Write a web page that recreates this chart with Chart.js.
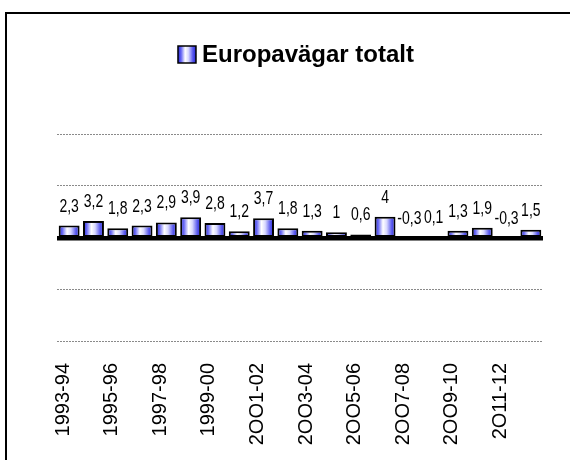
<!DOCTYPE html>
<html>
<head>
<meta charset="utf-8">
<script src="https://cdn.jsdelivr.net/npm/chart.js@4.4.1/dist/chart.umd.min.js"></script>
<style>
  body { margin: 0; background: #fff; }
</style>
</head>
<body>
<canvas id="chart" width="570" height="460"></canvas>
<script>
// Data
const categories = ['1993-94', '1994-95', '1995-96', '1996-97', '1997-98', '1998-99', '1999-00',
  '2OOO-01', '2OO1-02', '2OO2-03', '2OO3-04', '2OO4-05', '2OO5-06', '2OO6-07', '2OO7-08',
  '2OO8-09', '2OO9-10', '2O10-11', '2O11-12', '2O12-13'];
const values = [2.3, 3.2, 1.8, 2.3, 2.9, 3.9, 2.8, 1.2, 3.7, 1.8, 1.3, 1, 0.6, 4, -0.3, 0.1, 1.3, 1.9, -0.3, 1.5];
const yTicks = [-20, -10, 0, 10, 20];
const seriesName = 'Europavägar totalt';

const FONT = 'Arial, "Liberation Sans", sans-serif';
const BAR_PCT = 0.86;

function addStops(g) {
  g.addColorStop(0, '#2424d8');
  g.addColorStop(0.18, '#6b6bf5');
  g.addColorStop(0.4, '#ffffff');
  g.addColorStop(0.58, '#d8d8ff');
  g.addColorStop(0.82, '#5a5aee');
  g.addColorStop(1, '#2424d8');
  return g;
}

// horizontal cylinder-like gradient per bar
function barFill(ctx) {
  const chart = ctx.chart;
  const x = chart.scales.x;
  if (!x || ctx.type !== 'data' || !chart.chartArea) return '#5555ee';
  const cx = x.getPixelForValue(ctx.dataIndex);
  const w = (x.width / categories.length) * BAR_PCT;
  return addStops(chart.ctx.createLinearGradient(cx - w / 2, 0, cx + w / 2, 0));
}

const framePlugin = {
  id: 'frame',
  beforeDraw(chart) {
    const c = chart.ctx;
    c.save();
    c.fillStyle = '#fff';
    c.fillRect(0, 0, chart.width, chart.height);
    c.strokeStyle = '#000';
    c.lineWidth = 2;
    c.beginPath();
    c.moveTo(6, chart.height + 5);
    c.lineTo(6, 13);
    c.lineTo(chart.width + 5, 13);
    c.stroke();
    c.restore();
  },
  afterDraw(chart) {
    // legend shown as title line
    const c = chart.ctx;
    c.save();
    c.font = 'bold 24px ' + FONT;
    const tw = c.measureText(seriesName).width;
    const bw = 18, bh = 17, gap = 6;
    const total = bw + gap + tw;
    const left = 296 - total / 2;
    const top = 46;
    c.fillStyle = addStops(c.createLinearGradient(left, 0, left + bw, 0));
    c.fillRect(left, top, bw, bh);
    c.strokeStyle = '#000';
    c.lineWidth = 1.5;
    c.strokeRect(left, top, bw, bh);
    c.fillStyle = '#000';
    c.textBaseline = 'alphabetic';
    c.textAlign = 'left';
    c.fillText(seriesName, left + bw + gap, 62);
    c.restore();
  }
};

const axisAndLabels = {
  id: 'axisAndLabels',
  afterDatasetsDraw(chart) {
    const c = chart.ctx;
    const area = chart.chartArea;
    const y0 = chart.scales.y.getPixelForValue(0);
    c.save();
    c.fillStyle = '#000';
    c.fillRect(area.left, y0 - 1.5, area.right - area.left, 4.5);

    c.font = '14px ' + FONT;
    c.textAlign = 'center';
    c.textBaseline = 'alphabetic';
    chart.getDatasetMeta(0).data.forEach((bar, i) => {
      const top = Math.min(bar.y, bar.base);
      c.save();
      c.translate(bar.x, top - 14);
      c.scale(1, 1.3);
      c.fillText(String(values[i]).replace('.', ','), 0, 0);
      c.restore();
    });
    c.restore();
  }
};

new Chart(document.getElementById('chart'), {
  type: 'bar',
  data: {
    labels: categories,
    datasets: [{
      label: seriesName,
      data: values,
      backgroundColor: barFill,
      borderColor: '#000',
      borderWidth: 2,
      borderSkipped: false,
      categoryPercentage: 1,
      barPercentage: BAR_PCT
    }]
  },
  options: {
    responsive: false,
    animation: false,
    layout: { padding: { left: 57, right: 27, top: 134, bottom: 0 } },
    plugins: {
      legend: { display: false },
      tooltip: { enabled: false }
    },
    scales: {
      x: {
        grid: { display: false, drawTicks: false },
        border: { display: false },
        afterFit: (scale) => {
          scale.height = 119;
          scale.paddingLeft = 0;
          scale.paddingRight = 0;
        },
        ticks: {
          autoSkip: false,
          minRotation: 90,
          maxRotation: 90,
          padding: 22,
          labelOffset: -6,
          color: '#000',
          font: { family: FONT, size: 20 },
          callback: (v, i) => (i % 2 === 0 ? categories[i] : '')
        }
      },
      y: {
        min: yTicks[0],
        max: yTicks[yTicks.length - 1],
        afterBuildTicks: (scale) => { scale.ticks = yTicks.map(v => ({ value: v })); },
        ticks: { display: false },
        grid: {
          drawTicks: false,
          color: (ctx) => (ctx.tick && ctx.tick.value === 0 ? 'rgba(0,0,0,0)' : '#8a8a8a'),
          lineWidth: 1
        },
        border: { display: false, dash: [2, 1] }
      }
    }
  },
  plugins: [framePlugin, axisAndLabels]
});
</script>
</body>
</html>
